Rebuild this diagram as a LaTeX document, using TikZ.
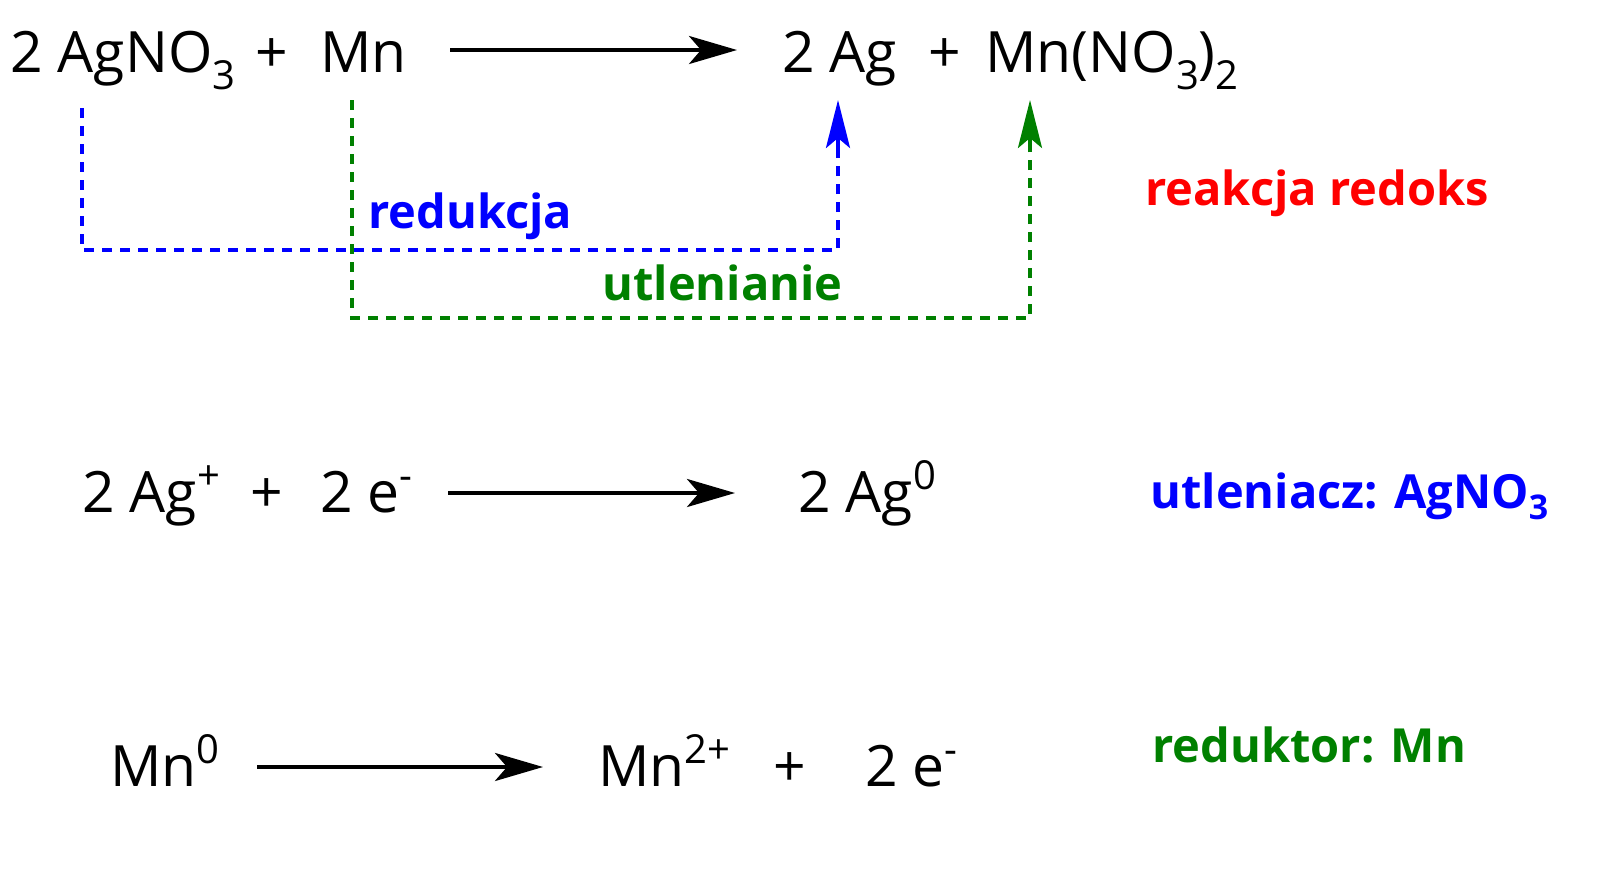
\documentclass[tikz,border=0pt]{standalone}
\usepackage{fontspec}
\setmainfont{Open Sans}
\usetikzlibrary{arrows.meta}
\definecolor{myblue}{RGB}{0,0,255}
\definecolor{mygreen}{RGB}{0,128,0}
\definecolor{myred}{RGB}{255,0,0}
\newcommand{\csub}[1]{\raisebox{-0.3em}{\fontsize{20}{22}\selectfont #1}}
\newcommand{\csup}[1]{\raisebox{0.4em}{\fontsize{20}{22}\selectfont #1}}
\newcommand{\lsub}[1]{\raisebox{-0.25em}{\fontsize{17}{19}\selectfont\bfseries #1}}
\begin{document}
\begin{tikzpicture}[x=0.5pt,y=-0.5pt,
  chem/.style={anchor=base west,inner sep=0pt,font=\fontsize{28.5}{32}\selectfont},
  lab/.style={anchor=base west,inner sep=0pt,font=\bfseries\fontsize{23.5}{26}\selectfont},
  rarr/.style={line width=2pt,-{Stealth[length=24pt,width=14pt,inset=6pt]}},
  dsh/.style={line width=1.8pt,dash pattern=on 5pt off 4pt},
  up/.style={-{Stealth[length=24pt,width=12pt,inset=5pt]},solid}]
\useasboundingbox (0,0) rectangle (1600,868);
% row 1
\node[chem] (a1) at (10,72) {2 AgNO\csub{3}};
\node[chem] (p1) at (255,72) {+};
\node[chem] (mn) at (320,72) {Mn};
\coordinate (r1s) at (450,50); \coordinate (r1e) at (737,50);
\draw[rarr] (r1s) -- (r1e);
\node[chem] (ag) at (782,72) {2 Ag};
\node[chem] (p2) at (928,72) {+};
\node[chem] (mnno) at (985,72) {Mn(NO\csub{3})\csub{2}};
% dashed paths
\coordinate (b0) at (82,108); \coordinate (b1) at (82,250);
\coordinate (b2) at (838,250); \coordinate (b3) at (838,100);
\draw[dsh,myblue] (b0) -- (b1) -- (b2) -- (838,150);
\draw[myblue,line width=1.8pt,up] (838,152) -- (b3);
\coordinate (g0) at (352,100); \coordinate (g1) at (352,318);
\coordinate (g2) at (1030,318); \coordinate (g3) at (1030,100);
\draw[dsh,mygreen] (g0) -- (g1) -- (g2) -- (1030,150);
\draw[mygreen,line width=1.8pt,up] (1030,152) -- (g3);
\node[lab,myblue] (red) at (368,228) {redukcja};
\node[lab,mygreen] (utl) at (602,300) {utlenianie};
\node[lab,myred] (rr) at (1145,205) {reakcja redoks};
% row 2
\node[chem] (ag2) at (82,512) {2 Ag\csup{+}};
\node[chem] (p3) at (250,512) {+};
\node[chem] (e2) at (320,512) {2 e\csup{-}};
\coordinate (r2s) at (448,493); \coordinate (r2e) at (735,493);
\draw[rarr] (r2s) -- (r2e);
\node[chem] (ag0) at (798,512) {2 Ag\csup{0}};
\node[lab,myblue] (ox) at (1150,508) {utleniacz: AgNO\lsub{3}};
% row 3
\node[chem] (mn0) at (110,786) {Mn\csup{0}};
\coordinate (r3s) at (257,767); \coordinate (r3e) at (543,767);
\draw[rarr] (r3s) -- (r3e);
\node[chem] (mn2) at (598,786) {Mn\csup{2+}};
\node[chem] (p4) at (773,786) {+};
\node[chem] (e3) at (865,786) {2 e\csup{-}};
\node[lab,mygreen] (rd) at (1152,762) {reduktor: Mn};
\end{tikzpicture}
\end{document}
